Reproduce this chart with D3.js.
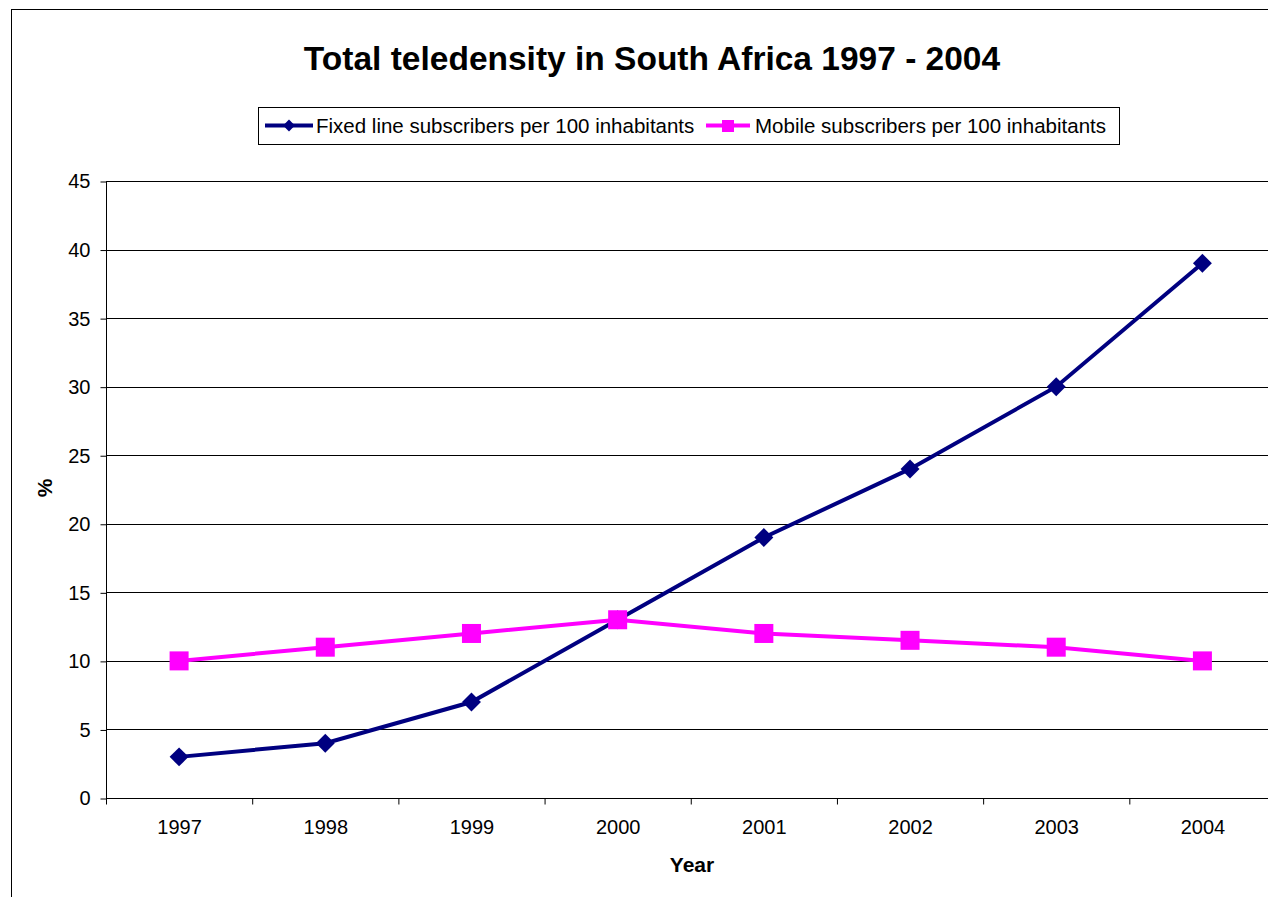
<!DOCTYPE html>
<html><head><meta charset="utf-8">
<script src="https://cdn.jsdelivr.net/npm/d3@7"></script>
<style>
body{margin:0;background:#fff;overflow:hidden}
text{font-family:"Liberation Sans",Arial,sans-serif;fill:#000}
</style></head>
<body>
<svg id="c" width="1268" height="897"></svg>
<script>
const years = ["1997","1998","1999","2000","2001","2002","2003","2004"];
const fixedLine = [3, 4, 7, 13, 19, 24, 30, 39];
const mobile = [10, 11, 12, 13, 12, 11.5, 11, 10];
const yTicks = [0,5,10,15,20,25,30,35,40,45];
const seriesNames = ["Fixed line subscribers per 100 inhabitants","Mobile subscribers per 100 inhabitants"];

const svg = d3.select("#c");
svg.append("rect").attr("x",11.5).attr("y",9.5).attr("width",1300).attr("height",1000)
  .attr("fill","#fff").attr("stroke","#000");

const L=106, R=1275.5, T=181, B=798;
const x = d3.scaleBand().domain(years).range([L,R]);
const y = d3.scaleLinear().domain([0,45]).range([B,T]);

// gridlines
svg.append("g").selectAll("line").data(yTicks).join("line")
  .attr("x1",L).attr("x2",R)
  .attr("y1",d=>Math.round(y(d))+0.5).attr("y2",d=>Math.round(y(d))+0.5)
  .attr("stroke","#000").attr("stroke-width",1);

// y axis
const ya = svg.append("g").attr("transform",`translate(${L+0.5},0.5)`)
  .call(d3.axisLeft(y).tickValues(yTicks).tickSize(6).tickPadding(10).tickFormat(d3.format("d")));
ya.selectAll("text").attr("font-size",20).style("font-family","Liberation Sans, Arial");
ya.select(".domain").attr("d",`M0,${T}V${B}`);

// x axis
const xa = svg.append("g").attr("transform",`translate(0.5,${B+0.5})`)
  .call(d3.axisBottom(x).tickSize(0).tickPadding(21));
xa.selectAll("text").attr("font-size",20).style("font-family","Liberation Sans, Arial");
xa.select(".domain").attr("d",`M${L},0H${R}`);
xa.append("g").selectAll("line").data(years.concat(["end"])).join("line")
  .attr("x1",(d,i)=>L+i*x.bandwidth()).attr("x2",(d,i)=>L+i*x.bandwidth())
  .attr("y1",0).attr("y2",6).attr("stroke","#000");

// axis titles
svg.append("text").attr("x",692).attr("y",872).attr("text-anchor","middle")
  .attr("font-size",21).attr("font-weight","bold").text("Year");
svg.append("text").attr("transform","translate(52,488) rotate(-90)").attr("text-anchor","middle")
  .attr("font-size",21).attr("font-weight","bold").text("%");

// title
svg.append("text").attr("x",652).attr("y",70).attr("text-anchor","middle")
  .attr("font-size",33.5).attr("font-weight","bold").text("Total teledensity in South Africa 1997 - 2004");

const cx = d => x(d)+x.bandwidth()/2;
const line = d3.line().x((d,i)=>cx(years[i])).y(d=>y(d));

svg.append("path").datum(fixedLine).attr("d",line).attr("fill","none")
  .attr("stroke","#000080").attr("stroke-width",4);
svg.append("g").selectAll("path").data(fixedLine).join("path")
  .attr("d",d3.symbol(d3.symbolSquare,180))
  .attr("transform",(d,i)=>`translate(${cx(years[i])},${y(d)}) rotate(45)`)
  .attr("fill","#000080");

svg.append("path").datum(mobile).attr("d",line).attr("fill","none")
  .attr("stroke","#FF00FF").attr("stroke-width",4);
svg.append("g").selectAll("rect").data(mobile).join("rect")
  .attr("x",(d,i)=>cx(years[i])-9.5).attr("y",d=>y(d)-9.5)
  .attr("width",19).attr("height",19).attr("fill","#FF00FF");

// legend
const lg = svg.append("g");
lg.append("rect").attr("x",258.5).attr("y",107.5).attr("width",861).attr("height",37)
  .attr("fill","#fff").attr("stroke","#000");
lg.append("line").attr("x1",265).attr("x2",313).attr("y1",125.5).attr("y2",125.5)
  .attr("stroke","#000080").attr("stroke-width",4);
lg.append("path").attr("d",d3.symbol(d3.symbolSquare,70))
  .attr("transform","translate(289,125.5) rotate(45)").attr("fill","#000080");
lg.append("text").attr("x",316).attr("y",133).attr("font-size",20.5).text(seriesNames[0]);
lg.append("line").attr("x1",706).attr("x2",750).attr("y1",125.5).attr("y2",125.5)
  .attr("stroke","#FF00FF").attr("stroke-width",4);
lg.append("rect").attr("x",722).attr("y",120).attr("width",12).attr("height",12).attr("fill","#FF00FF");
lg.append("text").attr("x",755).attr("y",133).attr("font-size",20.5).text(seriesNames[1]);
</script>
</body></html>
